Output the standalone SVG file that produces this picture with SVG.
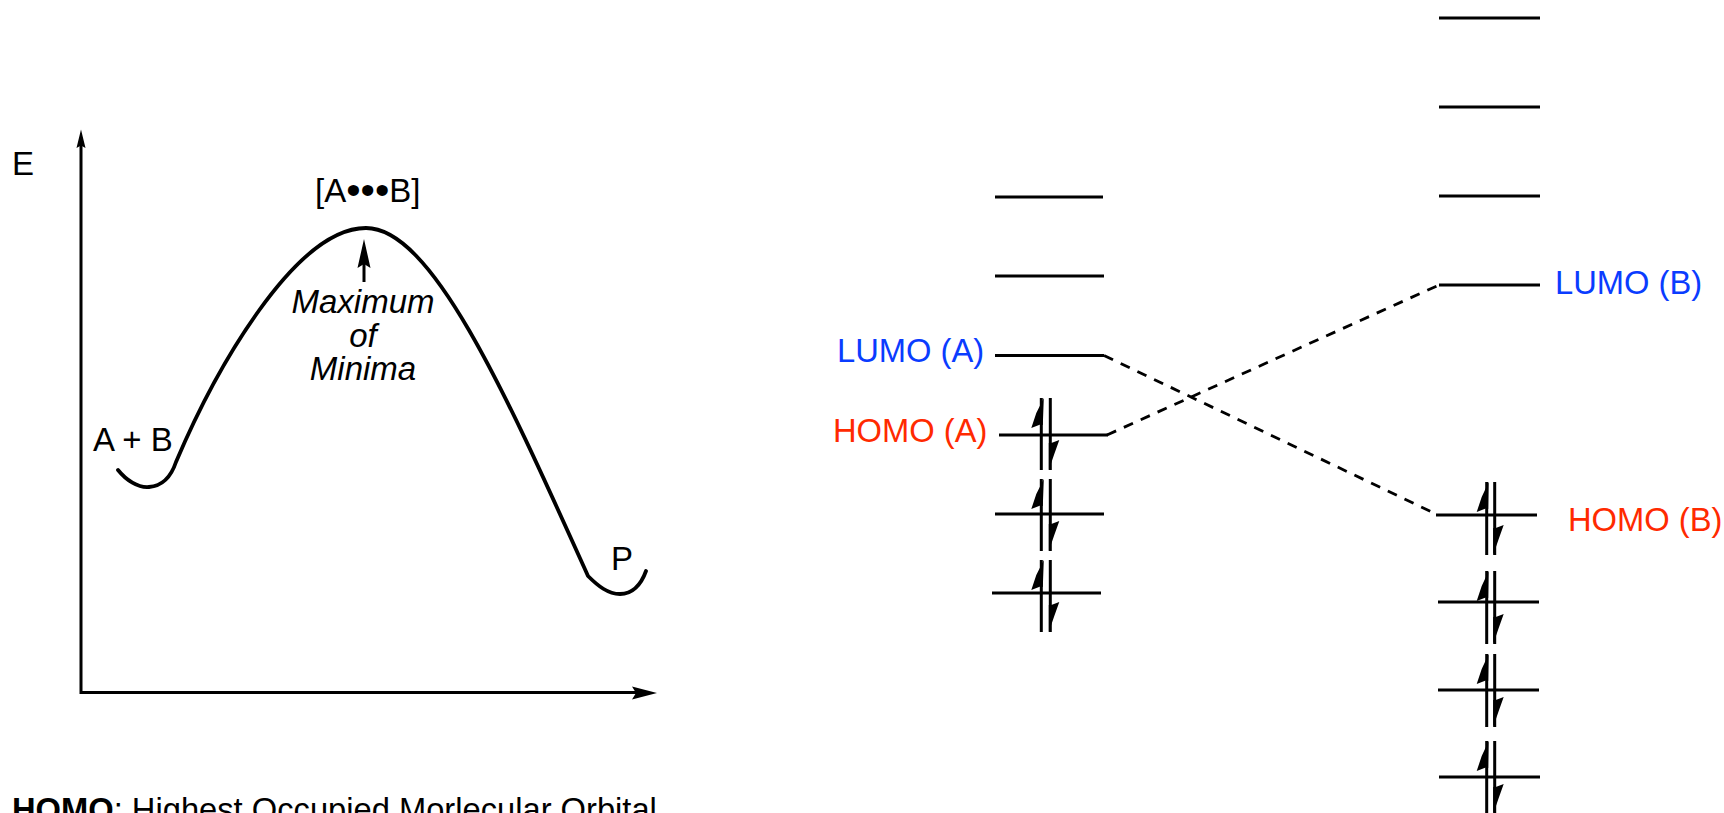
<svg xmlns="http://www.w3.org/2000/svg" xmlns:xlink="http://www.w3.org/1999/xlink" width="1724" height="813" viewBox="0 0 1724 813">
<style>
text{font-family:"Liberation Sans",Arial,Helvetica,sans-serif;font-size:33px;fill:#000}
.it{font-style:italic;text-anchor:middle}
.red{fill:#ff2a00;font-size:32.700px}
.blue{fill:#0a3cff;font-size:32.700px}
.ln{stroke:#000;stroke-width:3;fill:none}
.dash{stroke:#000;stroke-width:2.800;fill:none;stroke-dasharray:10 8.500}
.curve{stroke:#000;stroke-width:3.800;fill:none;stroke-linecap:round;stroke-linejoin:round}
</style>
<defs>
<g id="spinA">
<path class="ln" d="M0 0V72M9 0V72"/>
<path d="M2.500 0L-5 15L-10 30L-1 26.500L1.500 27Z"/>
<path d="M7.500 72L13 56L18 42L10 45L7.500 45Z"/>
</g>
<g id="spinB">
<path class="ln" d="M0 0V73M8 0V73"/>
<path d="M2 0L-5 15L-10 30L-1 26.500L1.500 27Z"/>
<path d="M6.500 73L12 57L17 43L9 46L6.500 46Z"/>
</g>
</defs>
<g id="axes">
<path class="ln" d="M81 140V692.500H640"/>
<path d="M81 129.500L85.500 148L81 145.500L76.500 148Z"/>
<path d="M657 693L632 686.500L636 693L632 699.500Z"/>
</g>
<g id="energy-curve">
<path class="curve" d="M118 470C126 480 138 488 149 487C162 486 171 477 176 462C215 370 295 228 366 228C432 228 505 392 588 576C598 586 608 594 620 594C632 594 641 585 646 571"/>
</g>
<g id="label-E"><text x="12" y="175">E</text></g>
<g id="label-ts"><text x="315" y="202">[A<tspan font-size="41" dy="2">•••</tspan><tspan dy="-2">B]</tspan></text></g>
<g id="label-ab"><text x="93" y="451">A + B</text></g>
<g id="label-p"><text x="611" y="570">P</text></g>
<g id="max-arrow">
<path class="ln" d="M364 282V258"/>
<path d="M364 239L370.500 268L364 264L357.500 268Z"/>
<text class="it" x="363" y="313">Maximum</text>
<text class="it" x="363" y="347">of</text>
<text class="it" x="363" y="380">Minima</text>
</g>
<g id="caption"><text x="12" y="821" style="font-size:32.700px"><tspan font-weight="bold">HOMO</tspan>: Highest Occupied Morlecular Orbital</text></g>
<g id="connectors">
<path class="dash" d="M1104 355.500L1437 514.500"/>
<path class="dash" d="M1107 435L1439 285"/>
</g>
<g id="A-level-1"><path class="ln" d="M995 197H1103"/></g>
<g id="A-level-2"><path class="ln" d="M995 276H1104"/></g>
<g id="A-lumo"><path class="ln" d="M995 355.500H1104"/><text class="blue" x="837" y="362">LUMO (A)</text></g>
<g id="A-homo"><path class="ln" d="M999 435H1108"/><use href="#spinA" x="1041.300" y="398"/><text class="red" x="833" y="442">HOMO (A)</text></g>
<g id="A-level-5"><path class="ln" d="M995 514H1104"/><use href="#spinA" x="1041.300" y="479"/></g>
<g id="A-level-6"><path class="ln" d="M992 593H1101"/><use href="#spinA" x="1041.300" y="560"/></g>
<g id="B-level-1"><path class="ln" d="M1439 18H1540"/></g>
<g id="B-level-2"><path class="ln" d="M1439 107H1540"/></g>
<g id="B-level-3"><path class="ln" d="M1439 196H1540"/></g>
<g id="B-lumo"><path class="ln" d="M1439 285H1540"/><text class="blue" x="1555" y="294">LUMO (B)</text></g>
<g id="B-homo"><path class="ln" d="M1436 515H1537"/><use href="#spinB" x="1486.700" y="482"/><text class="red" x="1568" y="531">HOMO (B)</text></g>
<g id="B-level-6"><path class="ln" d="M1438 602H1539"/><use href="#spinB" x="1486.700" y="571"/></g>
<g id="B-level-7"><path class="ln" d="M1438 690H1539"/><use href="#spinB" x="1486.700" y="654"/></g>
<g id="B-level-8"><path class="ln" d="M1439 777H1540"/><use href="#spinB" x="1486.700" y="741"/></g>
</svg>
